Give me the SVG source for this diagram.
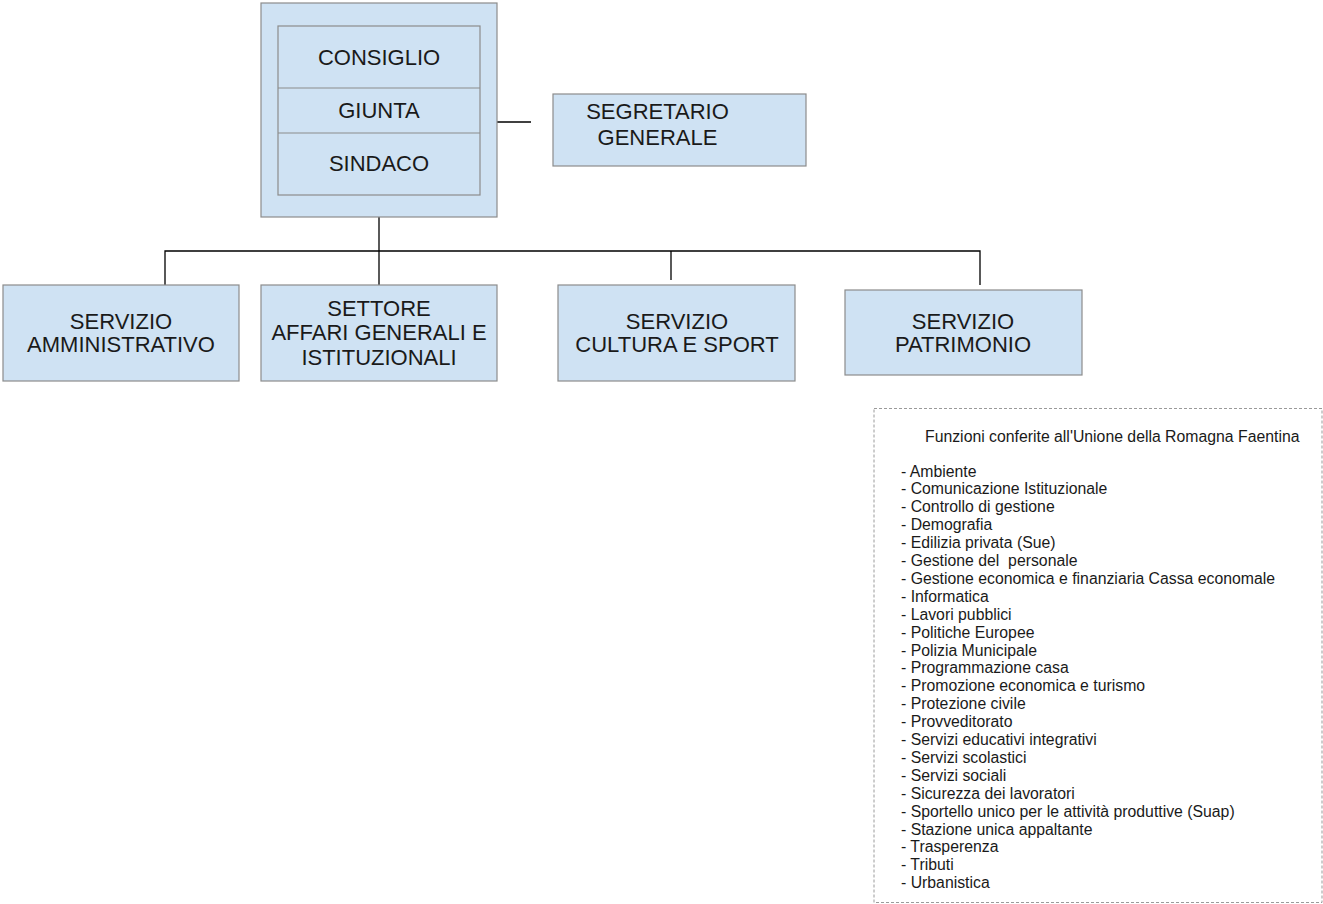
<svg xmlns="http://www.w3.org/2000/svg" width="1323" height="904" viewBox="0 0 1323 904">
<style>
.box{fill:#cfe2f3;stroke:#8c8c8c;stroke-width:1.2}
.lbl{font-family:"Liberation Sans",Arial,sans-serif;font-size:22px;fill:#1a1a1a;text-anchor:middle}
.ln{stroke:#000;stroke-width:1.3;fill:none}
.lst{font-family:"Liberation Sans",Arial,sans-serif;font-size:15.8px;fill:#1a1a1a}
</style>
<rect width="1323" height="904" fill="#fff"/>
<g id="connectors">
<line class="ln" x1="497" y1="122" x2="531" y2="122"/>
<line class="ln" x1="379" y1="217" x2="379" y2="291"/>
<polyline class="ln" points="165,285 165,251 980,251 980,285"/>
<line class="ln" x1="671" y1="251" x2="671" y2="280"/>
</g>
<g id="organi">
<rect class="box" x="261" y="3" width="236" height="214"/>
<rect class="box" x="278" y="26" width="202" height="169"/>
<line x1="278" y1="88" x2="480" y2="88" stroke="#8c8c8c" stroke-width="1.2"/>
<line x1="278" y1="133" x2="480" y2="133" stroke="#8c8c8c" stroke-width="1.2"/>
<text class="lbl" x="379" y="65">CONSIGLIO</text>
<text class="lbl" x="379" y="118">GIUNTA</text>
<text class="lbl" x="379" y="171">SINDACO</text>
</g>
<g id="segretario">
<rect class="box" x="553" y="94" width="253" height="72"/>
<text class="lbl" x="657.5" y="119">SEGRETARIO</text>
<text class="lbl" x="657.5" y="145">GENERALE</text>
</g>
<g id="amministrativo">
<rect class="box" x="3" y="285" width="236" height="96"/>
<text class="lbl" x="121" y="329">SERVIZIO</text>
<text class="lbl" x="121" y="352">AMMINISTRATIVO</text>
</g>
<g id="affari">
<rect class="box" x="261" y="285" width="236" height="96"/>
<text class="lbl" x="379" y="316">SETTORE</text>
<text class="lbl" x="379" y="340">AFFARI GENERALI E</text>
<text class="lbl" x="379" y="365">ISTITUZIONALI</text>
</g>
<g id="cultura">
<rect class="box" x="558" y="285" width="237" height="96"/>
<text class="lbl" x="677" y="329">SERVIZIO</text>
<text class="lbl" x="677" y="352">CULTURA E SPORT</text>
</g>
<g id="patrimonio">
<rect class="box" x="845" y="290" width="237" height="85"/>
<text class="lbl" x="963" y="329">SERVIZIO</text>
<text class="lbl" x="963" y="352">PATRIMONIO</text>
</g>
<g id="funzioni">
<rect x="874" y="408.5" width="448" height="494" fill="#fff" stroke="#9a9a9a" stroke-width="1" stroke-dasharray="3,2"/>
<text class="lst" x="925" y="441.5">Funzioni conferite all'Unione della Romagna Faentina</text>
<text class="lst" xml:space="preserve">
<tspan x="901" y="476.5">- Ambiente</tspan>
<tspan x="901" y="494.4">- Comunicazione Istituzionale</tspan>
<tspan x="901" y="512.3">- Controllo di gestione</tspan>
<tspan x="901" y="530.2">- Demografia</tspan>
<tspan x="901" y="548.1">- Edilizia privata (Sue)</tspan>
<tspan x="901" y="566">- Gestione del  personale</tspan>
<tspan x="901" y="583.9">- Gestione economica e finanziaria Cassa economale</tspan>
<tspan x="901" y="601.8">- Informatica</tspan>
<tspan x="901" y="619.7">- Lavori pubblici</tspan>
<tspan x="901" y="637.6">- Politiche Europee</tspan>
<tspan x="901" y="655.5">- Polizia Municipale</tspan>
<tspan x="901" y="673.4">- Programmazione casa</tspan>
<tspan x="901" y="691.3">- Promozione economica e turismo</tspan>
<tspan x="901" y="709.2">- Protezione civile</tspan>
<tspan x="901" y="727.1">- Provveditorato</tspan>
<tspan x="901" y="745">- Servizi educativi integrativi</tspan>
<tspan x="901" y="762.9">- Servizi scolastici</tspan>
<tspan x="901" y="780.8">- Servizi sociali</tspan>
<tspan x="901" y="798.7">- Sicurezza dei lavoratori</tspan>
<tspan x="901" y="816.6">- Sportello unico per le attività produttive (Suap)</tspan>
<tspan x="901" y="834.5">- Stazione unica appaltante</tspan>
<tspan x="901" y="852.4">- Trasperenza</tspan>
<tspan x="901" y="870.3">- Tributi</tspan>
<tspan x="901" y="888.2">- Urbanistica</tspan>
</text>
</g>
</svg>
